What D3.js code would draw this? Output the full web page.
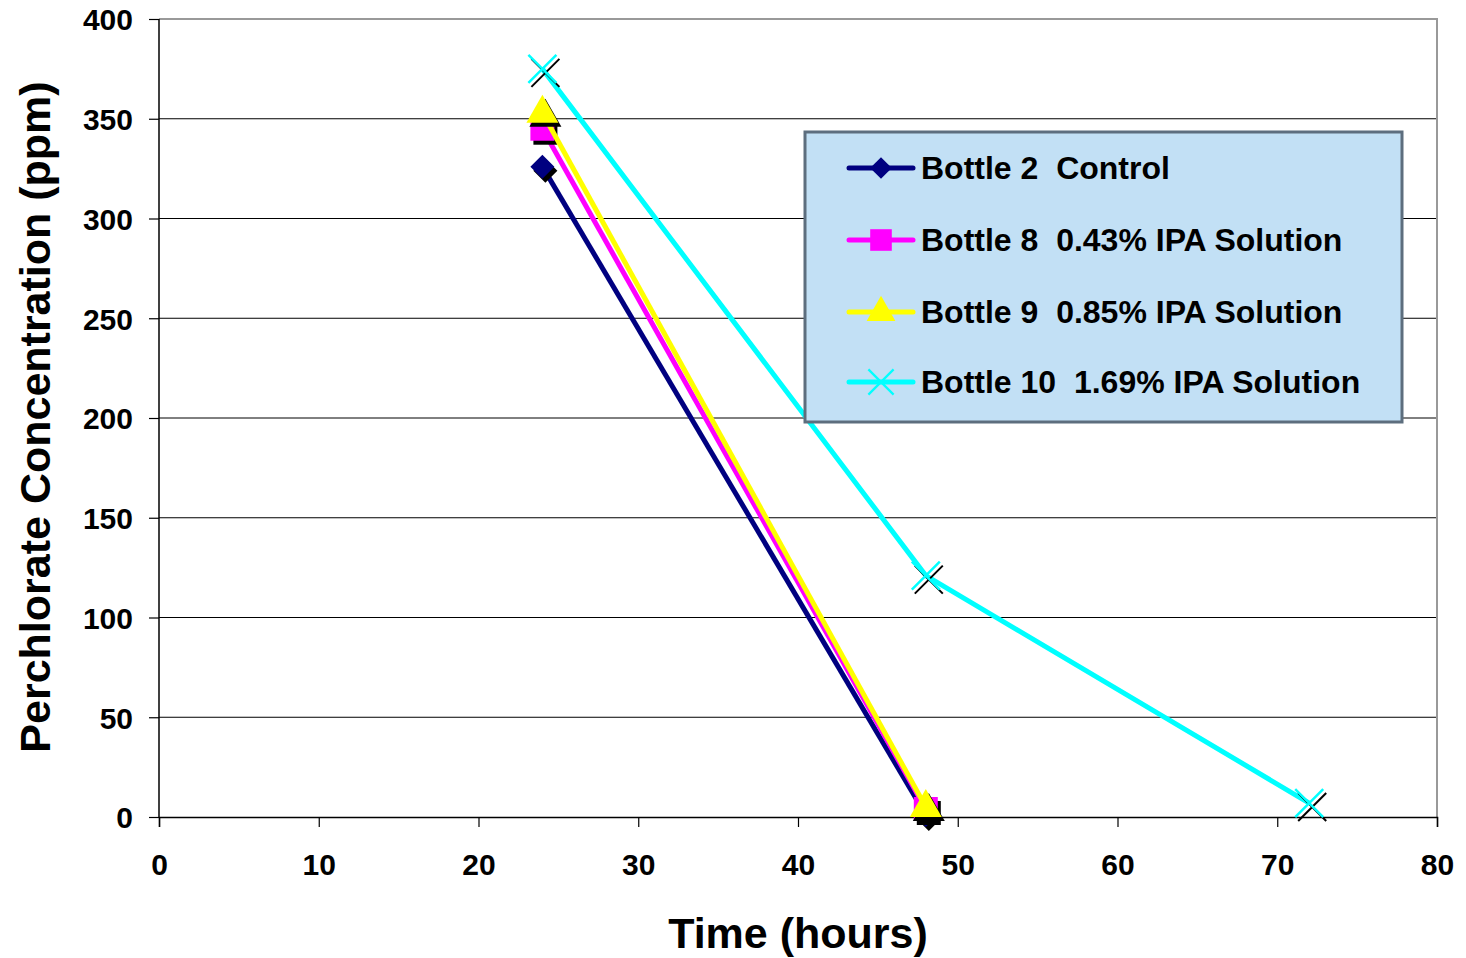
<!DOCTYPE html>
<html>
<head>
<meta charset="utf-8">
<script src="https://cdn.jsdelivr.net/npm/d3@7"></script>
<style>
  body { margin: 0; background: #fff; }
  svg text { font-family: "Liberation Sans", Arial, sans-serif; font-weight: bold; white-space: pre; }
</style>
</head>
<body>
<div id="chart"></div>
<script>
// values
const times = [24, 48, 72];
const bottle2 = [326, 1];
const bottle8 = [345, 4];
const bottle9 = [353, 5];
const bottle10 = [375, 121, 7];
const seriesNames = ["Bottle 2  Control", "Bottle 8  0.43% IPA Solution", "Bottle 9  0.85% IPA Solution", "Bottle 10  1.69% IPA Solution"];
const xTicks = [0, 10, 20, 30, 40, 50, 60, 70, 80];
const yTicks = [0, 50, 100, 150, 200, 250, 300, 350, 400];

const series = [
  {name: seriesNames[0], values: bottle2, color: "#000080", marker: "diamond"},
  {name: seriesNames[1], values: bottle8, color: "#ff00ff", marker: "square"},
  {name: seriesNames[2], values: bottle9, color: "#ffff00", marker: "triangle"},
  {name: seriesNames[3], values: bottle10, color: "#00ffff", marker: "cross"}
];

const W = 1466, H = 958;
const margin = {top: 19, right: 29, bottom: 141, left: 159};
const width = W - margin.left - margin.right;
const height = H - margin.top - margin.bottom;

const svg = d3.select("#chart").append("svg")
  .attr("width", W).attr("height", H);
const g = svg.append("g")
  .attr("transform", "translate(" + margin.left + "," + margin.top + ")");

const xScale = d3.scaleLinear().domain([0, 80]).range([0, width]);
const yScale = d3.scaleLinear().domain([0, 400]).range([height, 0]);

// gridlines
g.append("g").selectAll("line").data(yTicks.filter(d => d > 0 && d < 400)).join("line")
  .attr("x1", 0).attr("x2", width)
  .attr("y1", d => yScale(d)).attr("y2", d => yScale(d))
  .attr("stroke", "#000").attr("stroke-width", 1);

// plot border top/right
g.append("path")
  .attr("d", "M0,0H" + width + "V" + height)
  .attr("fill", "none").attr("stroke", "#999").attr("stroke-width", 2);

// axes
const xAxis = d3.axisBottom(xScale).tickValues(xTicks).tickSize(10).tickPadding(26);
const yAxis = d3.axisLeft(yScale).tickValues(yTicks).tickSize(10).tickPadding(16);

const gx = g.append("g").attr("transform", "translate(0," + height + ")").call(xAxis);
const gy = g.append("g").call(yAxis);
[gx, gy].forEach(a => {
  a.select(".domain").attr("stroke", "#000").attr("stroke-width", 1.5);
  a.selectAll(".tick line").attr("stroke", "#000").attr("stroke-width", 1.2);
  a.selectAll(".tick text").attr("font-size", 30).attr("fill", "#000")
    .style("font-family", "Liberation Sans, Arial, sans-serif").style("font-weight", "bold");
});
gy.select(".domain").attr("d", "M0," + height + "V0");
gy.selectAll(".tick text").attr("dy", "0.36em");
gx.selectAll(".tick text").attr("dy", "0.72em");

// axis titles
svg.append("text")
  .attr("x", margin.left + xScale(40)).attr("y", 948)
  .attr("text-anchor", "middle").attr("font-size", 43)
  .text("Time (hours)");
svg.append("text")
  .attr("transform", "translate(50," + 417 + ") rotate(-90)")
  .attr("text-anchor", "middle").attr("font-size", 43)
  .text("Perchlorate Concentration (ppm)");

function markerPath(type) {
  if (type === "diamond") return "M0,-12L12,0L0,12L-12,0Z";
  if (type === "square") return "M-12,-12H12V12H-12Z";
  if (type === "triangle") return "M0,-18L16,10H-16Z";
  return "M-14,-14L14,14M14,-14L-14,14";
}

function drawMarker(sel, s, withShadow) {
  if (withShadow) {
    sel.append("path")
      .attr("transform", "translate(3,4)")
      .attr("d", markerPath(s.marker))
      .attr("fill", s.marker === "cross" ? "none" : "#000")
      .attr("stroke", "#000").attr("stroke-width", s.marker === "cross" ? 2 : 0);
  }
  sel.append("path")
    .attr("d", markerPath(s.marker))
    .attr("fill", s.marker === "cross" ? "none" : s.color)
    .attr("stroke", s.color).attr("stroke-width", s.marker === "cross" ? 2.5 : 0);
}

const line = d3.line()
  .x((d, i) => xScale(times[i]))
  .y(d => yScale(d));

series.forEach(s => {
  g.append("path").datum(s.values)
    .attr("d", line)
    .attr("fill", "none").attr("stroke", s.color).attr("stroke-width", 5);
  s.values.forEach((v, i) => {
    const m = g.append("g").attr("transform", "translate(" + xScale(times[i]) + "," + yScale(v) + ")");
    drawMarker(m, s, true);
  });
});

// legend
const leg = svg.append("g").attr("transform", "translate(805,132)");
leg.append("rect").attr("width", 597).attr("height", 290)
  .attr("fill", "#c2e0f5").attr("stroke", "#5d6e7e").attr("stroke-width", 3);
const rowY = [36, 108, 180, 250];
series.forEach((s, i) => {
  const r = leg.append("g").attr("transform", "translate(0," + rowY[i] + ")");
  r.append("line").attr("x1", 44).attr("x2", 108).attr("y1", 0).attr("y2", 0)
    .attr("stroke", s.color).attr("stroke-width", 5).attr("stroke-linecap", "round");
  const m = r.append("g").attr("transform", "translate(76,0) scale(0.9)");
  drawMarker(m, s, false);
  r.append("text").attr("x", 116).attr("y", 11).attr("font-size", 32)
    .attr("xml:space", "preserve").text(s.name);
});
</script>
</body>
</html>
